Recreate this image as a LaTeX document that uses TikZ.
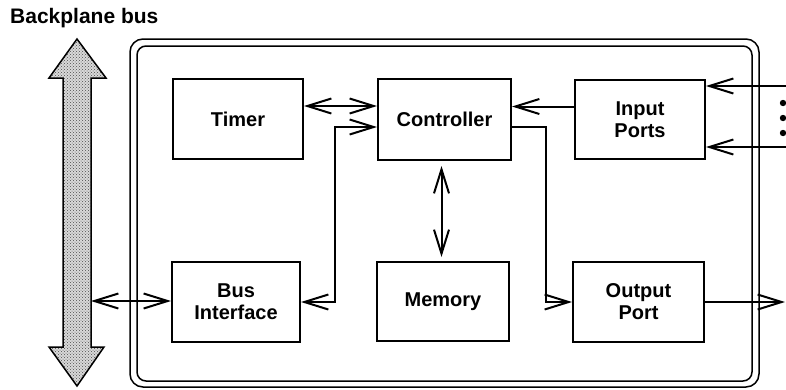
\documentclass[tikz,border=0pt]{standalone}
\usepackage{fontspec}
\setmainfont{Liberation Sans}
\usetikzlibrary{arrows.meta,calc,patterns}
\begin{document}
\begin{tikzpicture}[x=1pt,y=-1pt,
  box/.style={draw,line width=2pt,minimum width=130pt,minimum height=80pt,inner sep=0pt,align=center,
    font=\fontsize{20}{22}\selectfont\bfseries},
  conn/.style={line width=2pt,>={Straight Barb[length=24pt,width=15pt,line width=2pt]}},
  frame/.style={draw,line width=1.5pt},
  lbl/.style={font=\fontsize{21}{24}\selectfont\bfseries,anchor=west,inner sep=0pt}]
\useasboundingbox (0,0) rectangle (786,389);
\node[lbl] (title) at (10,18) {Backplane bus};
% frame
\draw[frame,rounded corners=13pt] (130,39) rectangle (759,387);
\draw[frame,rounded corners=9pt] (137,46) rectangle (752,381);
% backplane bus arrow
\path[fill=gray!30] (77,39) -- (106,78) -- (91,78) -- (91,347) -- (104,347) -- (77,386)
  -- (49,347) -- (63,347) -- (63,78) -- (49,78) -- cycle;
\path[pattern=crosshatch dots,pattern color=black!70] (77,39) -- (106,78) -- (91,78) -- (91,347) -- (104,347) -- (77,386)
  -- (49,347) -- (63,347) -- (63,78) -- (49,78) -- cycle;
\draw[line width=1.5pt] (77,39) -- (106,78) -- (91,78) -- (91,347) -- (104,347) -- (77,386)
  -- (49,347) -- (63,347) -- (63,78) -- (49,78) -- cycle;
% boxes
\node[box] (timer) at (238,119) {Timer};
\node[box,minimum width=133pt,minimum height=81pt] (ctrl) at (444.5,119.5) {Controller};
\node[box,minimum height=79pt] (inp) at (640,119.5) {Input\\Ports};
\node[box,minimum width=128pt] (busif) at (236,302) {Bus\\Interface};
\node[box,minimum width=132pt,minimum height=79pt] (mem) at (443,301.5) {Memory};
\node[box,minimum width=131pt] (outp) at (638.5,302) {Output\\Port};
% connectors
\draw[conn,<->] ([yshift=13pt]timer.east) -- ([yshift=13pt]timer.east -| ctrl.west);
\draw[conn,->] ([yshift=13pt]inp.west) -- ([yshift=13pt]inp.west -| ctrl.east);
\draw[conn,<->] (busif.east) -- ++(34,0) |- ([yshift=-7.5pt]ctrl.west);
\draw[conn,->] ([yshift=-7.5pt]ctrl.east) -- ++(34,0) |- (outp.west);
\draw[conn,<->,shorten <=5pt,shorten >=4pt] ([xshift=-3pt]ctrl.south) -- ([xshift=-3pt]ctrl.south |- mem.north);
\coordinate (in1) at (786,86);
\coordinate (in2) at (786,147);
\coordinate (o1) at (785,302);
\coordinate (busR) at (91,301);
\draw[conn,->] (in1) -- (in1 -| inp.east);
\draw[conn,->] (in2) -- (in2 -| inp.east);
\draw[conn,->] (outp.east) -- (o1);
\draw[conn,<->] (busR) -- (busR -| busif.west);
\fill (783,103) circle (3.2) (783,118) circle (3.2) (783,133) circle (3.2);
\end{tikzpicture}
\end{document}
